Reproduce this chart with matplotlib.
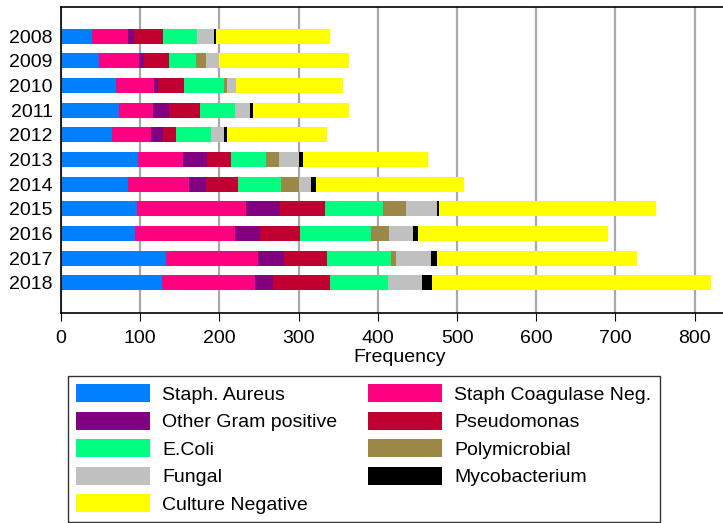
import numpy as np
import matplotlib
matplotlib.use("Agg")
import matplotlib.pyplot as plt

plt.rcParams['font.family'] = ['Liberation Sans', 'DejaVu Sans']

years = ['2008', '2009', '2010', '2011', '2012', '2013',
         '2014', '2015', '2016', '2017', '2018']

staph_aureus = [39, 48, 70, 73, 64, 97, 84, 96, 93, 132, 128]
staph_cons = [46, 51, 48, 43, 49, 57, 78, 138, 127, 117, 117]
other_gram_pos = [7, 6, 5, 20, 16, 30, 21, 42, 31, 33, 23]
pseudomonas = [37, 31, 32, 40, 16, 31, 40, 57, 51, 54, 71]
e_coli = [43, 34, 51, 44, 44, 44, 55, 73, 89, 81, 74]
polymicrobial = [0, 13, 4, 0, 0, 16, 23, 30, 23, 6, 0]
fungal = [21, 16, 11, 18, 17, 25, 15, 39, 30, 44, 43]
mycobacterium = [3, 1, 0, 4, 3, 5, 6, 2, 7, 8, 12]
culture_neg = [144, 163, 135, 121, 127, 158, 187, 274, 240, 252, 352]

series = [
    ('Staph. Aureus', staph_aureus, '#0080ff'),
    ('Staph Coagulase Neg.', staph_cons, '#ff0080'),
    ('Other Gram positive', other_gram_pos, '#800080'),
    ('Pseudomonas', pseudomonas, '#c00030'),
    ('E.Coli', e_coli, '#00ff80'),
    ('Polymicrobial', polymicrobial, '#9c8846'),
    ('Fungal', fungal, '#c0c0c0'),
    ('Mycobacterium', mycobacterium, '#000000'),
    ('Culture Negative', culture_neg, '#ffff00'),
]

fig = plt.figure(figsize=(7.23, 5.23), dpi=100)
ax = fig.add_axes([61/723, 1 - 313/523, 1 - 61/723 + 0.02, (313 - 7)/523])

y = np.arange(len(years))
left = np.zeros(len(years))
handles = []
for name, vals, col in series:
    h = ax.barh(y, vals, left=left, height=0.61, color=col, label=name, zorder=2)
    handles.append(h)
    left += np.array(vals)

ax.set_ylim(len(years) - 1 + 1.22, -1.18)
ax.set_xlim(0, 854)
ax.set_xticks(range(0, 900, 100))
ax.set_yticks(y)
ax.set_yticklabels(years)
ax.tick_params(axis='y', length=0, labelsize=14, pad=6)
ax.tick_params(axis='x', length=6, labelsize=14, pad=6, direction='out')
ax.set_xlabel('Frequency', fontsize=14, labelpad=2)
ax.grid(axis='x', color='#a8a8a8', linewidth=1.6, zorder=0)
ax.set_axisbelow(True)
for s in ax.spines.values():
    s.set_linewidth(1.2)
ax.spines['right'].set_visible(False)

# legend order: row by row, two columns
order = [0, 2, 4, 6, 8, 1, 3, 5, 7]
leg = fig.legend([handles[i] for i in order], [series[i][0] for i in order],
                 loc='upper left', bbox_to_anchor=(68/723, 1 - 376/523),
                 ncol=2, fontsize=14, frameon=True, fancybox=False,
                 edgecolor='black', handlelength=3.78, handleheight=1.03,
                 handletextpad=0.63, labelspacing=0.41, columnspacing=1.6,
                 borderpad=0.43, borderaxespad=0)
leg.get_frame().set_linewidth(1.0)

fig.savefig('out.png', dpi=100)
